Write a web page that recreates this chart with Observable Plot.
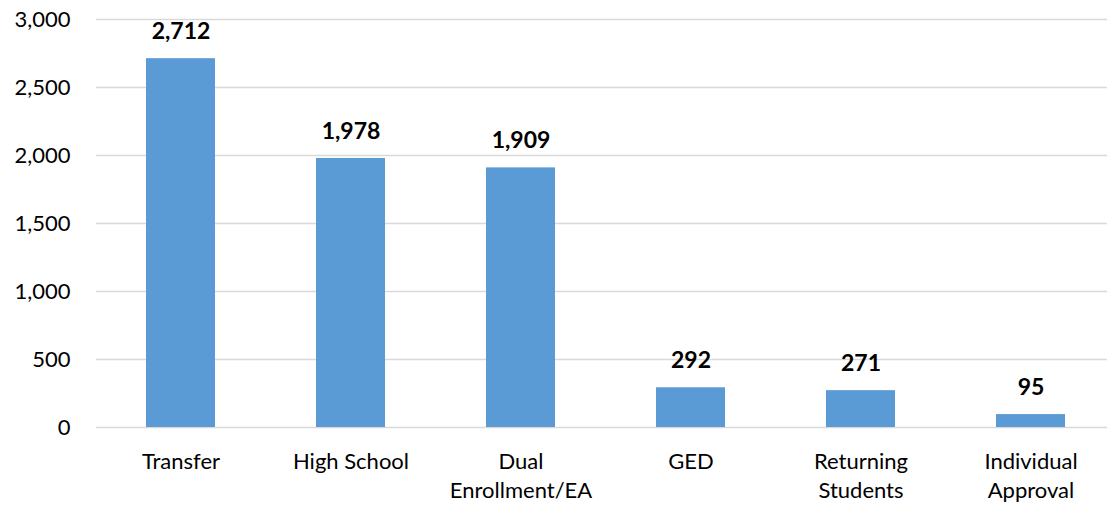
<!DOCTYPE html>
<html>
<head>
<meta charset="utf-8">
<script src="https://cdn.jsdelivr.net/npm/d3@7"></script>
<script src="https://cdn.jsdelivr.net/npm/@observablehq/plot@0.6"></script>
<style>
  html, body { margin: 0; padding: 0; background: #fff; }
  #chart svg { display: block; }
</style>
</head>
<body>
<div id="chart"></div>
<script>
const categories = ["Transfer", "High School", "Dual\nEnrollment/EA", "GED", "Returning\nStudents", "Individual\nApproval"];
const values = [2712, 1978, 1909, 292, 271, 95];
const yTicks = [0, 500, 1000, 1500, 2000, 2500, 3000];

const data = categories.map((c, i) => ({category: c, value: values[i]}));
const fmt = d3.format(",");

const chart = Plot.plot({
  width: 1107,
  height: 508,
  marginLeft: 96,
  marginRight: 0,
  marginTop: 19,
  marginBottom: 81,
  style: {fontFamily: "Lato, 'Open Sans', sans-serif", fontSize: "22px", color: "#000", background: "#fff"},
  x: {domain: categories, range: [96, 1116], paddingInner: 0.594, paddingOuter: 0.297, label: null},
  y: {domain: [0, 3000], label: null},
  marks: [
    Plot.ruleY(yTicks, {stroke: "#d9d9d9", strokeWidth: 1.5}),
    Plot.barY(data, {x: "category", y: "value", fill: "#5B9BD5"}),
    Plot.text(data, {x: "category", y: "value", text: d => fmt(d.value), dy: -27, fontWeight: "bold", fontSize: 23, fill: "#000"}),
    Plot.axisY({ticks: yTicks, tickSize: 0, tickPadding: 26, tickFormat: fmt, fontSize: 22, label: null}),
    Plot.axisX({tickSize: 0, tickPadding: 21, lineAnchor: "top", lineHeight: 1.32, fontSize: 22, label: null, textOverflow: null})
  ]
});
document.getElementById("chart").appendChild(chart);
</script>
</body>
</html>
